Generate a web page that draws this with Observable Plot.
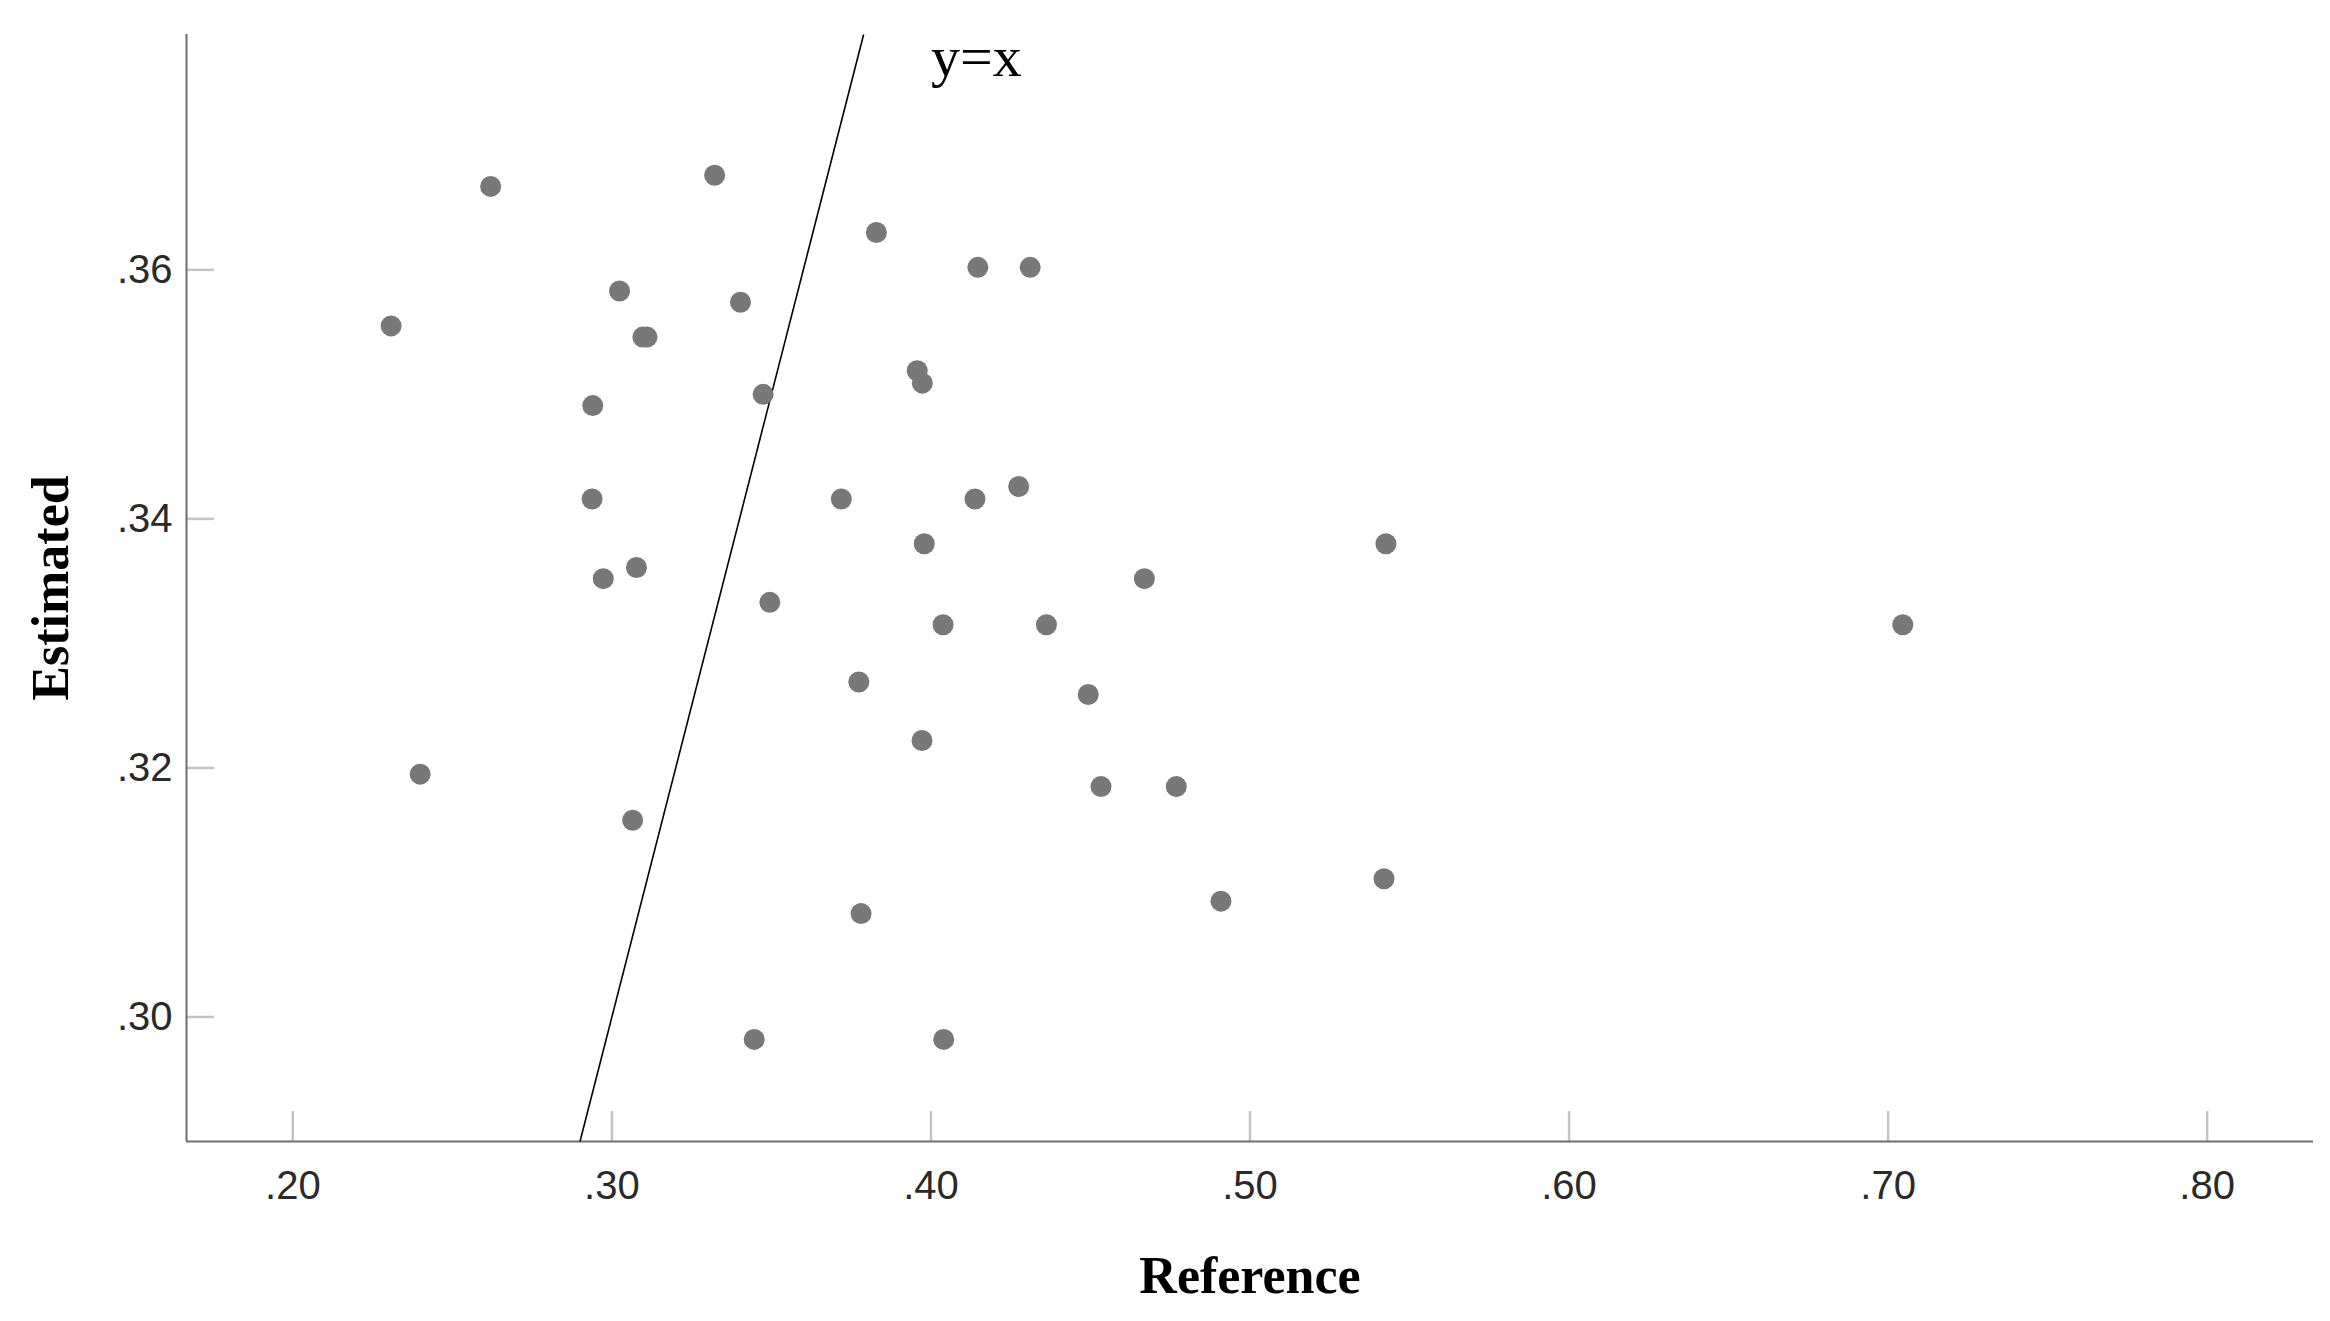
<!DOCTYPE html>
<html>
<head>
<meta charset="utf-8">
<script src="https://cdn.jsdelivr.net/npm/d3@7"></script>
<script src="https://cdn.jsdelivr.net/npm/@observablehq/plot@0.6"></script>
<style>
  html, body { margin: 0; padding: 0; background: #ffffff; }
  #chart svg { display: block; }
</style>
</head>
<body>
<div id="chart"></div>
<script>
// ---- Data ----
const referenceValues = [
  0.2620, 0.3322, 0.3024, 0.3403, 0.2308, 0.3097, 0.3110, 0.3474, 0.2940, 0.2938,
  0.3719, 0.3077, 0.2973, 0.3495, 0.3829, 0.4147, 0.4311, 0.3957, 0.3973, 0.4275,
  0.4138, 0.3979, 0.5426, 0.4669, 0.4038, 0.4362, 0.3774, 0.4493, 0.7046, 0.3972,
  0.4533, 0.4769, 0.5420, 0.4909, 0.3781, 0.4040, 0.2399, 0.3065, 0.3446
];
const estimatedValues = [
  0.3667, 0.3676, 0.3583, 0.3574, 0.3555, 0.3546, 0.3546, 0.3500, 0.3491, 0.3416,
  0.3416, 0.3361, 0.3352, 0.3333, 0.3630, 0.3602, 0.3602, 0.3519, 0.3509, 0.3426,
  0.3416, 0.3380, 0.3380, 0.3352, 0.3315, 0.3315, 0.3269, 0.3259, 0.3315, 0.3222,
  0.3185, 0.3185, 0.3111, 0.3093, 0.3083, 0.2982, 0.3195, 0.3158, 0.2982
];
const xDomain = [0.16667, 0.83333];
const yDomain = [0.29, 0.3789];
const xTicks = [0.2, 0.3, 0.4, 0.5, 0.6, 0.7, 0.8];
const yTicks = [0.30, 0.32, 0.34, 0.36];
const xTitle = "Reference";
const yTitle = "Estimated";
const lineLabel = "y=x";
const lineLabelAt = {x: 0.40, y: 0.3756};

// ---- Derived tables ----
const points = referenceValues.map((r, i) => ({reference: r, estimated: estimatedValues[i]}));
const lo = Math.max(xDomain[0], yDomain[0]);
const hi = Math.min(xDomain[1], yDomain[1]);
const identity = [{x1: lo, y1: lo, x2: hi, y2: hi}];

const W = 2330, H = 1321;
const mL = 186, mR = 17, mT = 34, mB = 180;
const plotW = W - mL - mR, plotH = H - mT - mB;
const fmt = d => d3.format(".2f")(d).replace(/^0/, "");
const serif = "'Liberation Serif', 'Times New Roman', serif";

const chart = Plot.plot({
  width: W,
  height: H,
  marginLeft: mL,
  marginRight: mR,
  marginTop: mT,
  marginBottom: mB,
  style: {background: "#ffffff", color: "#222", fontFamily: "'Liberation Sans', Arial, sans-serif"},
  x: {domain: xDomain},
  y: {domain: yDomain},
  marks: [
    // inner ticks
    Plot.ruleX(xTicks, {stroke: "#c4c4c4", strokeWidth: 2.5, insetTop: plotH - 30}),
    Plot.ruleY(yTicks, {stroke: "#c4c4c4", strokeWidth: 2.5, insetRight: plotW - 28}),
    // axis lines
    Plot.ruleX([xDomain[0]], {stroke: "#6e6e6e", strokeWidth: 2}),
    Plot.ruleY([yDomain[0]], {stroke: "#6e6e6e", strokeWidth: 2}),
    // tick labels
    Plot.axisX({ticks: xTicks, tickSize: 0, tickPadding: 29, tickFormat: fmt, fontSize: 40, fill: "#2a2a2a", label: null}),
    Plot.axisY({ticks: yTicks, tickSize: 0, tickPadding: 14, tickFormat: fmt, fontSize: 40, fill: "#2a2a2a", label: null}),
    // identity line
    Plot.link(identity, {x1: "x1", y1: "y1", x2: "x2", y2: "y2", stroke: "#000", strokeWidth: 1.6}),
    // points
    Plot.dot(points, {x: "reference", y: "estimated", r: 10.5, fill: "#787878"}),
    // line label
    Plot.text([lineLabelAt], {x: "x", y: "y", text: () => lineLabel, textAnchor: "start", lineAnchor: "bottom",
      fontSize: 58, fontFamily: serif, fill: "#000"}),
    // axis titles
    Plot.text([xTitle], {frameAnchor: "bottom", text: d => d, dy: 151, textAnchor: "middle", lineAnchor: "bottom",
      fontSize: 52, fontWeight: "bold", fontFamily: serif, fill: "#000"}),
    Plot.text([yTitle], {frameAnchor: "left", text: d => d, dx: -119, rotate: -90, textAnchor: "middle", lineAnchor: "bottom",
      fontSize: 52, fontWeight: "bold", fontFamily: serif, fill: "#000"})
  ]
});
document.getElementById("chart").appendChild(chart);
</script>
</body>
</html>
